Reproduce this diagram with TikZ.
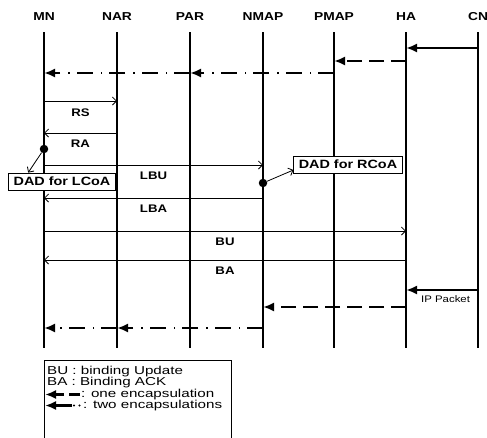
\documentclass[tikz,border=0pt]{standalone}
\usepackage{fontspec}
\setmainfont{Liberation Sans}[FakeStretch=1.2]
\newfontfamily\keyfont{Liberation Sans}[FakeStretch=1.32]
\usetikzlibrary{arrows.meta,positioning}
\tikzset{
  head/.style   = {font=\fontsize{11.5}{11.5}\selectfont\bfseries, inner sep=1pt},
  life/.style   = {line width=1.1pt},
  msg/.style    = {-{Straight Barb[length=4pt,width=8pt]}, line width=0.8pt},
  lbl/.style    = {font=\fontsize{11}{11}\selectfont\bfseries, inner sep=1pt},
  tun/.style    = {-{Latex[length=11pt,width=9pt]}, line width=2.2pt},
  tunone/.style = {tun, dash pattern=on 15pt off 7pt},
  tuntwo/.style = {tun, dash pattern=on 16pt off 7pt on 1.5pt off 8pt},
  dad/.style    = {draw, fill=white, line width=0.8pt, inner xsep=5pt,
                   minimum height=17pt, font=\fontsize{12}{12}\selectfont\bfseries},
  dotmk/.style  = {circle, fill, inner sep=0pt, minimum size=8.5pt},
  note/.style   = {font=\fontsize{9.5}{9.5}\selectfont, inner sep=1pt},
  keytxt/.style = {font=\keyfont\fontsize{11.5}{11.5}\selectfont, inner sep=0pt, anchor=west},
  keybox/.style = {draw, line width=0.8pt, anchor=north west},
}
\begin{document}
\begin{tikzpicture}[x=1pt,y=-1pt]
\useasboundingbox (0,0) rectangle (487,437);
% lifelines
\foreach \n/\x/\t in {mn/44/MN, nar/117/NAR, par/190/PAR, nmap/263/NMAP,
                      pmap/334/PMAP, ha/406/HA, cn/478/CN}{
  \node[head] (\n) at (\x,17) {\t};
  \coordinate (\n-top) at (\x,32);
  \coordinate (\n-bot) at (\x,348);
  \draw[life] (\n-top) -- (\n-bot);
  \foreach \r/\y in {pka/48, tna/61, twa/73, rs/101, ra/133, lbu/165, lba/198,
                     bu/231, ba/260, pkb/290, tnb/307, twb/328}
    \coordinate (\n-\r) at (\x,\y);
}
% packets before handover
\draw[tun] (cn-pka) -- (ha-pka);
\draw[tunone] (ha-tna) -- (pmap-tna);
\draw[tuntwo] (pmap-twa) -- (par-twa);
\draw[tuntwo] (par-twa) -- (mn-twa);
% signalling
\draw[msg] (mn-rs) -- node[lbl, below=6pt] (rsl) {RS} (nar-rs);
\draw[msg] (nar-ra) -- node[lbl, below=6pt] (ral) {RA} (mn-ra);
\draw[msg] (mn-lbu) -- node[lbl, below=6pt] (lbul) {LBU} (nmap-lbu);
\draw[msg] (nmap-lba) -- node[lbl, below=6pt] (lbal) {LBA} (mn-lba);
\draw[msg] (mn-bu) -- node[lbl, below=6pt] (bul) {BU} (ha-bu);
\draw[msg] (ha-ba) -- node[lbl, below=6pt] (bal) {BA} (mn-ba);
% duplicate address detection
\node[dad] (dadl) at (62,181.5) {DAD for LCoA};
\node[dad] (dadr) at (348,164.5) {DAD for RCoA};
\node[dotmk] (dotl) at (44,149) {};
\node[dotmk] (dotr) at (263,183) {};
\draw[msg] (dotl) -- ([xshift=20pt]dadl.north west);
\draw[msg] (dotr) -- ([yshift=-5.5pt]dadr.west);
% packets after handover
\draw[tun] (cn-pkb) -- node[note, below=4pt, pos=0.45] (ipk) {IP Packet} (ha-pkb);
\draw[tunone] (ha-tnb) -- (nmap-tnb);
\draw[tuntwo] (nmap-twb) -- (nar-twb);
\draw[tuntwo] (nar-twb) -- (mn-twb);
% key
\node[keybox, minimum width=187pt, minimum height=82pt] (key) at (44,360) {};
\node[keytxt] (kbu) at (47,372) {BU : binding Update};
\node[keytxt] (kba) at (47,383) {BA : Binding ACK};
\node[keytxt] (kone) at (81,394.5) {: one encapsulation};
\node[keytxt] (ktwo) at (83,405.5) {: two encapsulations};
\draw[line width=2.2pt] ([xshift=-1pt]kone.west) -- ([xshift=-12pt]kone.west);
\draw[tun] ([xshift=-17pt]kone.west) -- ([xshift=-36pt]kone.west);
\draw[tun] ([xshift=-11pt]ktwo.west) -- ([xshift=-38pt]ktwo.west);
\fill ([xshift=-9pt]ktwo.west) circle (1.1pt);
\fill ([xshift=-3.5pt]ktwo.west) circle (1.1pt);
\end{tikzpicture}
\end{document}
